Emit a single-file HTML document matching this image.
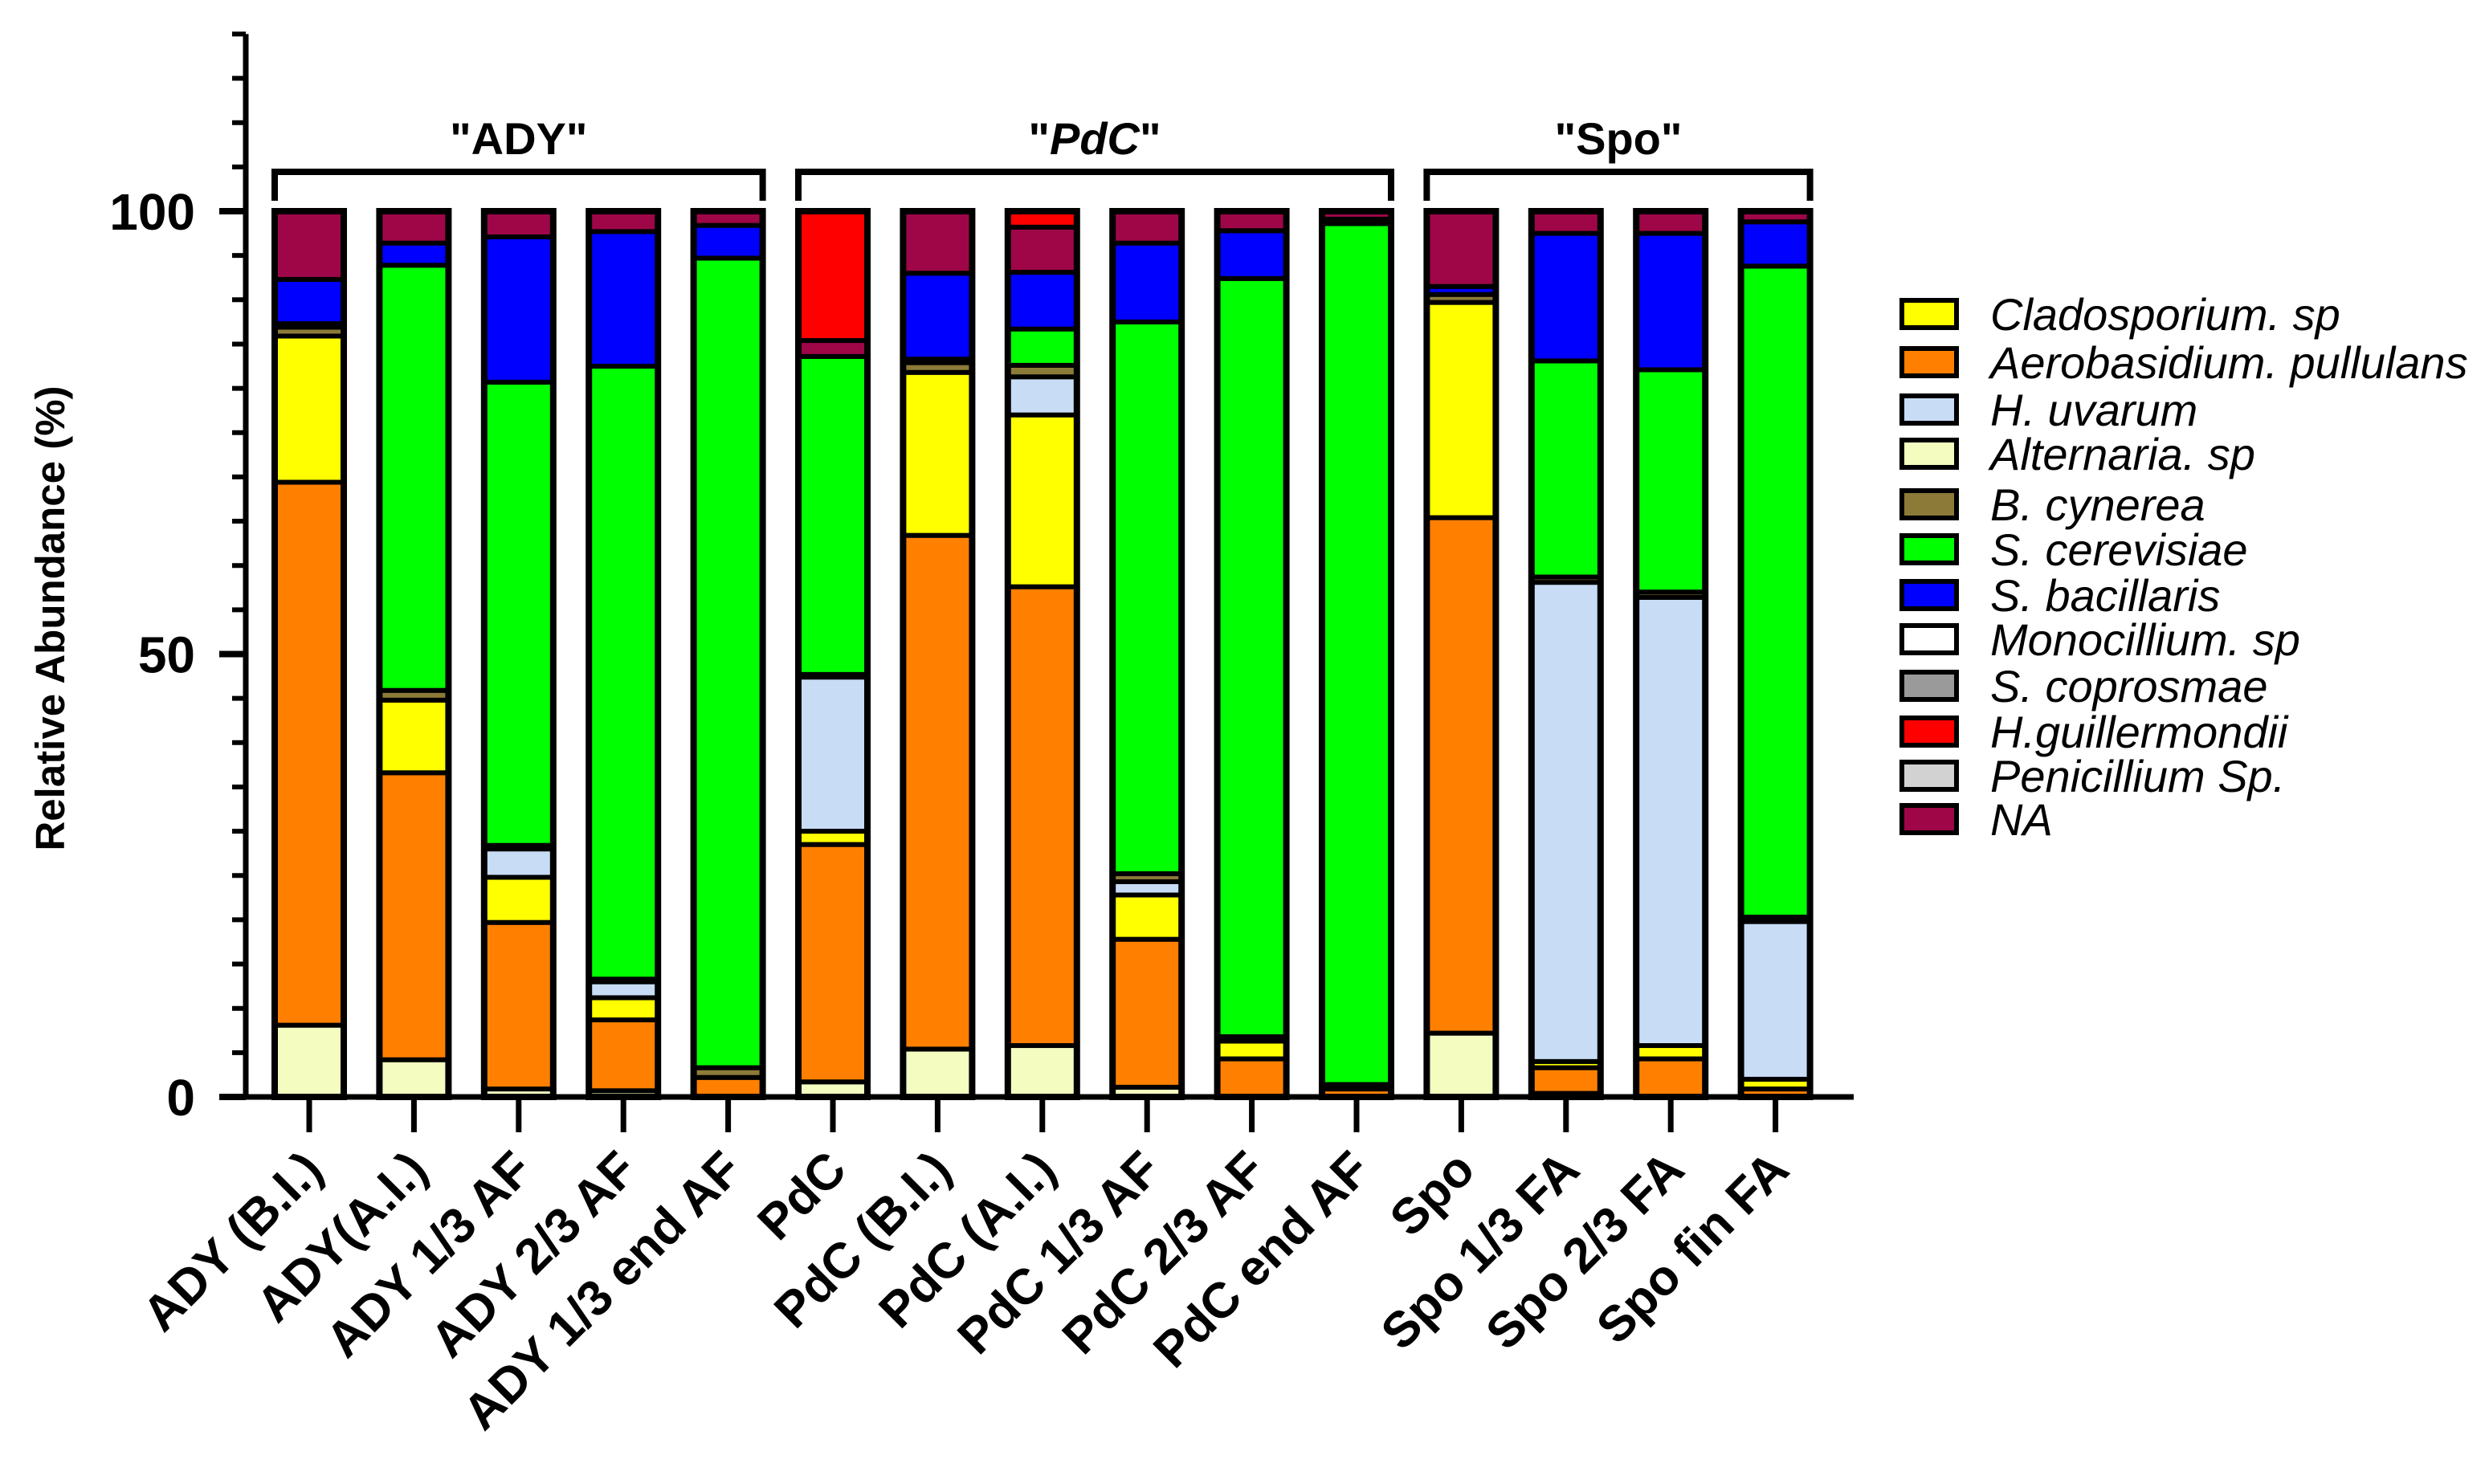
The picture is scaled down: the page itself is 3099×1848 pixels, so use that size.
<!DOCTYPE html>
<html><head><meta charset="utf-8"><style>
html,body{margin:0;padding:0;background:#fff;}
svg{display:block;font-family:"Liberation Sans",Arial,sans-serif;}
</style></head><body>
<svg id="chart" width="3099" height="1848" viewBox="0 0 3099 1848" xmlns="http://www.w3.org/2000/svg">
<rect width="3099" height="1848" fill="#fff"/>
<g id="bars"></g>
<g id="axes"></g>
<g id="groups"></g>
<g id="legend"></g>
</svg>
<script>
const categories = ["ADY (B.I.)","ADY(A.I.)","ADY 1/3 AF","ADY 2/3 AF","ADY 1/3 end AF","PdC","PdC (B.I.)","PdC (A.I.)","PdC 1/3 AF","PdC 2/3 AF","PdC end AF","Spo","Spo 1/3 FA","Spo 2/3 FA","Spo fin FA"];
const speciesNames = ["Alternaria. sp","Aerobasidium. pullulans","Cladosporium. sp","H. uvarum","B. cynerea","Monocillium. sp","S. coprosmae","Penicillium Sp.","S. cerevisiae","S. bacillaris","NA","H.guillermondii"];
const speciesColors = ["#f4fcc0","#ff8000","#ffff00","#c8dcf6","#8c7a38","#ffffff","#9a9a9a","#d2d2d2","#00ff00","#0000ff","#9e0648","#ff0000"];
const alternaria   = [8.1,4.2,0.9,0.7,0,1.7,5.4,5.8,1.1,0,0,7.2,0.4,0,0];
const aerobasidium = [61.3,32.4,18.8,8,2.2,26.8,58,51.8,16.7,4.3,0.9,58.2,2.9,4.3,0.9];
const cladosporium = [16.5,8.2,5.1,2.5,0,1.5,18.4,19.4,5,2,0,24.3,0.7,1.5,1.1];
const huvarum      = [0,0,3.2,1.8,0,17.4,0,4.3,1.5,0,0,0,54.1,50.6,17.8];
const bcynerea     = [1,1.1,0.4,0.3,1.1,0.3,1.1,1.3,0.9,0.5,0.5,0.9,0.6,0.6,0.5];
const monocillium  = [0,0,0,0,0,0,0,0,0,0,0,0,0,0,0];
const scoprosmae   = [0.4,0,0,0,0,0,0.4,0,0,0,0,0,0,0,0];
const penicillium  = [0,0,0,0,0,0,0,0,0,0,0,0,0,0,0];
const scerevisiae  = [0,48,52.3,69.2,91.4,35.9,0,4.1,62.3,85.6,97.2,0,24.4,25.1,73.5];
const sbacillaris  = [5,2.5,16.4,15.2,3.7,0,9.7,6.4,8.9,5.4,0.5,0.9,14.4,15.4,5];
const naValues     = [7.7,3.6,2.9,2.3,1.6,1.8,7,5.1,3.6,2.2,0.9,8.5,2.5,2.5,1.2];
const hguillermondii = [0,0,0,0,0,14.6,0,1.8,0,0,0,0,0,0,0];
const series = [alternaria,aerobasidium,cladosporium,huvarum,bcynerea,monocillium,scoprosmae,penicillium,scerevisiae,sbacillaris,naValues,hguillermondii];
const yTicks = [0,50,100];
const legendOrder = [2,1,3,0,4,8,9,5,6,11,7,10];
const groupLabels = ["\"ADY\"","\"PdC\"","\"Spo\""];
const groupStart = [0,5,11];
const groupEnd = [4,10,14];

const NS="http://www.w3.org/2000/svg";
function mk(tag,attrs,parent){const e=document.createElementNS(NS,tag);for(const k in attrs)e.setAttribute(k,attrs[k]);parent.appendChild(e);return e;}
const X0=306, Y0=1366, Y100=263, YMAX=120;
function y(v){return Y0-(v/100)*(Y0-Y100);}
const firstC=385, stepC=130.4, barW=86;
function xc(i){return firstC+i*stepC;}

const gBars=document.getElementById('bars');
categories.forEach((c,i)=>{
  const g=mk('g',{},gBars);
  
  
  let acc=0;
  series.forEach((s,k)=>{
    const v=s[i]; if(!v) return;
    const r=mk('rect',{x:xc(i)-barW/2,y:y(acc+v),width:barW,height:y(acc)-y(acc+v),fill:speciesColors[k],stroke:'#000','stroke-width':6},g);
    
    
    acc+=v;
  });
  const o=mk('rect',{x:xc(i)-barW/2,y:y(acc),width:barW,height:y(0)-y(acc),fill:'none',stroke:'#000','stroke-width':8},g);
  
  
});

const gA=document.getElementById('axes');
const ya=mk('line',{x1:X0,y1:y(YMAX),x2:X0,y2:Y0+3,stroke:'#000','stroke-width':7},gA);


const xa=mk('line',{x1:X0-3,y1:Y0,x2:2308,y2:Y0,stroke:'#000','stroke-width':7},gA);


for(let v=0;v<=YMAX;v+=5){
  const major=yTicks.includes(v);
  const t=mk('line',{x1:major?273:289,y1:y(v),x2:X0,y2:y(v),stroke:'#000','stroke-width':major?8:6},gA);
  
  
}
yTicks.forEach(v=>{
  const t=mk('text',{x:243,y:y(v)+23,'text-anchor':'end','font-size':64,'font-weight':'bold'},gA);
  t.textContent=v;
  
  
});
const yt=mk('text',{x:0,y:0,transform:'translate(80,770) rotate(-90)','text-anchor':'middle','font-size':51,'font-weight':'bold'},gA);
yt.textContent='Relative Abundance (%)';


categories.forEach((c,i)=>{
  const t=mk('line',{x1:xc(i),y1:Y0,x2:xc(i),y2:1410,stroke:'#000','stroke-width':7},gA);
  
  
  const l=mk('text',{x:0,y:0,transform:`translate(${xc(i)+20},1460) rotate(-45)`,'text-anchor':'end','font-size':62,'font-weight':'bold'},gA);
  l.textContent=c;
  
  
});

const gG=document.getElementById('groups');
groupLabels.forEach((lab,j)=>{
  const x1=xc(groupStart[j])-barW/2, x2=xc(groupEnd[j])+barW/2;
  const p=mk('path',{d:`M${x1},250 V214 H${x2} V250`,fill:'none',stroke:'#000','stroke-width':8},gG);
  
  
  const t=mk('text',{x:(x1+x2)/2,y:192,'text-anchor':'middle','font-size':56,'font-weight':'bold'},gG);
  if(j===1){
    t.appendChild(document.createTextNode('"'));
    const s=mk('tspan',{'font-style':'italic'},t); s.textContent='PdC';
    t.appendChild(document.createTextNode('"'));
  } else t.textContent=lab;
  
  
});

const gL=document.getElementById('legend');
const rowY=[391,451,510,565,628,684,741,796,854,911,966,1020];
legendOrder.forEach((k,r)=>{
  const g=mk('g',{},gL);
  
  
  mk('rect',{x:2368,y:rowY[r]-17,width:68,height:34,fill:speciesColors[k],stroke:'#000','stroke-width':6},g);
  const t=mk('text',{x:2478,y:rowY[r]+20,'font-size':56,'font-style':'italic'},g);
  t.textContent=speciesNames[k];
});
</script>
</body></html>
